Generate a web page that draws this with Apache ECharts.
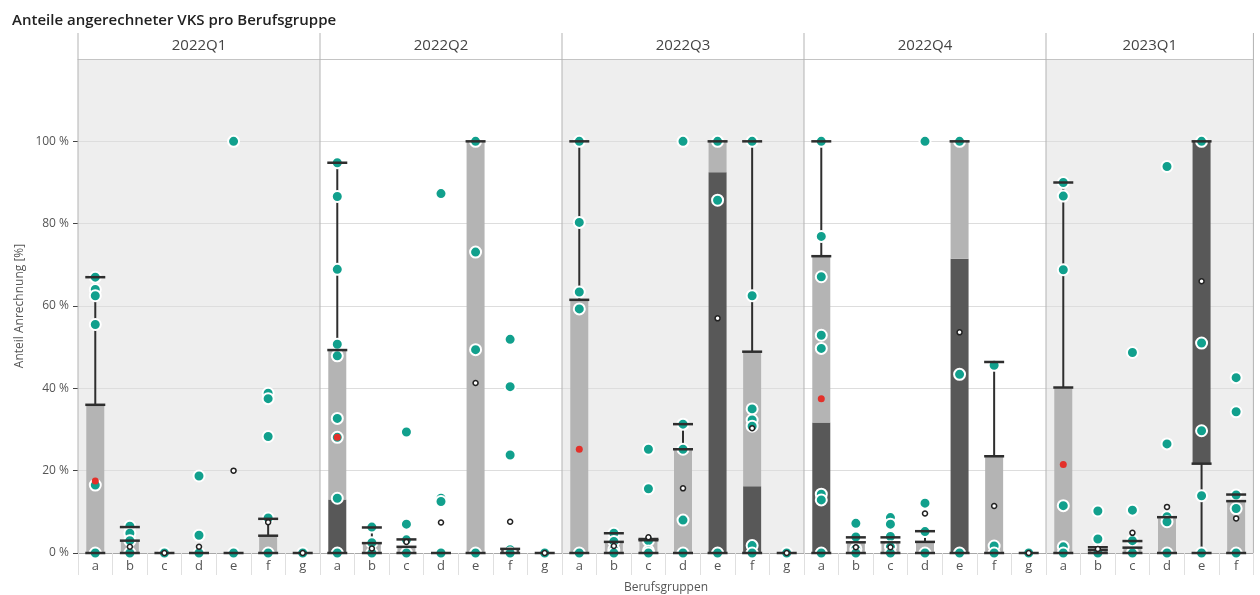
<!DOCTYPE html>
<html><head><meta charset="utf-8">
<script src="https://cdn.jsdelivr.net/npm/echarts@6/dist/echarts.min.js"></script>
<style>html,body{margin:0;padding:0;background:#fff}#c{width:1260px;height:595px}</style>
</head><body><div id="c"></div>
<script>
// ---- data ----
const quarters = ['2022Q1', '2022Q2', '2022Q3', '2022Q4', '2023Q1'];
const groups7 = ['a', 'b', 'c', 'd', 'e', 'f', 'g'];
const groups6 = ['a', 'b', 'c', 'd', 'e', 'f'];
const yTicks = [0, 20, 40, 60, 80, 100];

// box statistics per category: [whisker low, Q1, median, Q3, whisker high] in %
const box2022Q1 = [[0,0,0,36,67],[0,0,0,3,6.3],[0,0,0,0,0],[0,0,0,0,0],[0,0,0,0,0],[0,0,0,4.2,8.3],[0,0,0,0,0]];
const box2022Q2 = [[0,0,13,49.3,94.8],[0,0,0,2.4,6.2],[0,0,0,1.5,3.3],[0,0,0,0,0],[0,0,0,100,100],[0,0,1,1,1],[0,0,0,0,0]];
const box2022Q3 = [[0,0,0,61.5,100],[0,0,0,2.7,4.8],[0,0,0,3.1,3.4],[0,0,0,25.2,31.3],[0,0,92.5,100,100],[0,0,16.2,48.9,100],[0,0,0,0,0]];
const box2022Q4 = [[0,0,31.7,72.1,100],[0,0,0,2.6,3.8],[0,0,0,2.6,3.8],[0,0,0,2.7,5.3],[0,0,71.5,100,100],[0,0,0,23.5,46.4],[0,0,0,0,0]];
const box2023Q1 = [[0,0,0,40.2,90],[0,0,0,0.7,1.4],[0,0,0,1.3,2.9],[0,0,0,8.7,8.7],[0,21.7,100,100,100],[0,0,0,12.6,14.2]];

// individual values per category (%)
const pts2022Q1 = [[67,64,62.5,55.5,16.5,0],[6.5,4.8,3,0],[0],[18.7,4.3,0],[100,0],[38.8,37.5,28.3,8.5,0],[0]];
const pts2022Q2 = [[94.8,86.6,68.9,50.7,47.9,32.7,28.1,13.3,0],[6.3,2.5,0],[29.4,7.0,3.2,0],[87.3,13.3,12.5,0],[100,73.1,49.4,0],[51.9,40.4,23.8,0.8,0],[0]];
const pts2022Q3 = [[100,80.3,63.4,59.3,0],[4.8,2.8,0.8,0],[25.2,15.6,3.0,0.5,0],[100,31.3,25.2,8.0,0],[100,85.7,0],[100,62.5,35.0,32.3,30.8,1.8,0],[0]];
const pts2022Q4 = [[100,76.9,67.1,52.9,49.7,14.3,12.9,0],[7.2,3.9,1.0,0],[8.6,7.0,4.0,1.5,0],[100,12.1,5.2,0],[100,43.4,0],[45.6,1.7,0],[0]];
const pts2023Q1 = [[90,86.7,68.8,11.5,1.5,0],[10.2,3.4,0.5,0],[48.7,10.4,3.0,0],[93.9,26.5,8.8,7.6,0],[100,51.0,29.7,13.9,0],[42.6,34.3,14.1,10.8,0]];

// mean per category (%)
const mean2022Q1 = [17.5, 1.5, 0, 1.5, 20, 7.5, 0];
const mean2022Q2 = [28.1, 1.1, 2.7, 7.4, 41.3, 7.6, 0];
const mean2022Q3 = [25.2, 1.7, 3.8, 15.7, 57.0, 30.3, 0];
const mean2022Q4 = [37.5, 1.4, 1.4, 9.6, 53.6, 11.4, 0];
const mean2023Q1 = [21.5, 1.0, 4.9, 11.2, 66.0, 8.4];

const panels = [
  { name: quarters[0], cats: groups7, box: box2022Q1, pts: pts2022Q1, mean: mean2022Q1 },
  { name: quarters[1], cats: groups7, box: box2022Q2, pts: pts2022Q2, mean: mean2022Q2 },
  { name: quarters[2], cats: groups7, box: box2022Q3, pts: pts2022Q3, mean: mean2022Q3 },
  { name: quarters[3], cats: groups7, box: box2022Q4, pts: pts2022Q4, mean: mean2022Q4 },
  { name: quarters[4], cats: groups6, box: box2023Q1, pts: pts2023Q1, mean: mean2023Q1 }
];

// ---- layout / style ----
const FONT = 'Open Sans';
const LEFT0 = 78, CAT_W = 242 / 7, TOP = 59, HEIGHT = 494, HEAD_TOP = 33, BAND_BOTTOM = 575;
const TEAL = '#11a08d', RED = '#e3302a', DARK = '#585858', LIGHT = '#b4b4b4', WHISK = '#2e2e2e';
const BOX_W = 18;

function renderBox(params, api) {
  const i = api.value(0);
  const lo = api.value(1), q1 = api.value(2), md = api.value(3), q3 = api.value(4), hi = api.value(5);
  const cx = api.coord([i, 0])[0];
  const Y = v => api.coord([i, v])[1];
  const hw = BOX_W / 2;
  const ch = [];
  if (md > q1) ch.push({ type: 'rect', shape: { x: cx - hw, y: Y(md), width: BOX_W, height: Y(q1) - Y(md) }, style: { fill: DARK } });
  if (q3 > md) ch.push({ type: 'rect', shape: { x: cx - hw, y: Y(q3), width: BOX_W, height: Y(md) - Y(q3) }, style: { fill: LIGHT } });
  if (hi > q3) ch.push({ type: 'line', shape: { x1: cx, y1: Y(q3), x2: cx, y2: Y(hi) }, style: { stroke: WHISK, lineWidth: 2 } });
  if (q1 > lo) ch.push({ type: 'line', shape: { x1: cx, y1: Y(lo), x2: cx, y2: Y(q1) }, style: { stroke: WHISK, lineWidth: 2 } });
  return { type: 'group', children: ch };
}

function renderCaps(params, api) {
  const i = api.value(0);
  const vals = [api.value(5), api.value(4), api.value(2), api.value(1)];
  const cx = api.coord([i, 0])[0];
  const hw = BOX_W / 2 + 1;
  const caps = [];
  vals.forEach(v => { if (caps.indexOf(v) < 0) caps.push(v); });
  return { type: 'group', children: caps.map(v => {
    const y = api.coord([i, v])[1];
    return { type: 'line', shape: { x1: cx - hw, y1: y, x2: cx + hw, y2: y }, style: { stroke: WHISK, lineWidth: 2.5 } };
  }) };
}

const grid = [], xAxis = [], yAxis = [], series = [], graphic = [];
let left = LEFT0;
panels.forEach((p, k) => {
  const width = CAT_W * p.cats.length;
  grid.push({ left: left, top: TOP, width: width, height: HEIGHT, show: true,
    backgroundColor: (k % 2 === 0) ? '#eeeeee' : '#ffffff', borderWidth: 0 });
  graphic.push({ type: 'line', shape: { x1: left, y1: HEAD_TOP, x2: left, y2: TOP + HEIGHT }, style: { stroke: '#b3b3b3', lineWidth: 1 }, z: 5 });
  if (k === panels.length - 1) {
    graphic.push({ type: 'line', shape: { x1: left + width, y1: HEAD_TOP, x2: left + width, y2: TOP + HEIGHT }, style: { stroke: '#b3b3b3', lineWidth: 1 }, z: 5 });
  }
  left += width;
  const base = xAxis.length;
  xAxis.push({ gridIndex: k, type: 'category', data: p.cats, position: 'bottom',
    axisLine: { show: true, lineStyle: { color: '#a8a8a8', width: 1 } },
    axisTick: { show: true, alignWithLabel: true, length: 5, lineStyle: { color: '#666' } },
    axisLabel: { margin: 7, fontSize: 13, color: '#555', fontFamily: FONT },
    splitLine: { show: false } });
  xAxis.push({ gridIndex: k, type: 'category', data: p.cats, position: 'bottom',
    axisLine: { show: false }, axisLabel: { show: false },
    axisTick: { show: true, alignWithLabel: false, length: BAND_BOTTOM - TOP - HEIGHT, lineStyle: { color: '#e0e0e0' } },
    splitLine: { show: false } });
  xAxis.push({ gridIndex: k, type: 'category', data: [p.name], position: 'top',
    axisLine: { show: true, lineStyle: { color: '#c4c4c4' } }, axisTick: { show: false },
    axisLabel: { margin: 6, fontSize: 15, color: '#444', fontFamily: FONT }, splitLine: { show: false } });
  yAxis.push({ gridIndex: k, type: 'value', min: 0, max: 120, interval: 20,
    name: k === 0 ? 'Anteil Anrechnung [%]' : '', nameLocation: 'middle', nameGap: 52,
    nameTextStyle: { fontSize: 12, color: '#555', fontFamily: FONT },
    axisLine: { show: false },
    axisTick: { show: k === 0, length: 5, lineStyle: { color: '#444' }, customValues: yTicks },
    axisLabel: { show: k === 0, margin: 9, fontSize: 12, color: '#555', fontFamily: FONT, customValues: yTicks,
      formatter: v => (v > 100 ? '' : v + ' %') },
    splitLine: { show: true, lineStyle: { color: '#dddddd', width: 1 } } });

  const boxData = p.box.map((b, i) => [i].concat(b));
  series.push({ type: 'custom', xAxisIndex: base, yAxisIndex: k, z: 2, renderItem: renderBox,
    encode: { x: 0, y: [1, 2, 3, 4, 5] }, data: boxData });
  const sc = [];
  p.pts.forEach((arr, i) => arr.forEach(v => sc.push([i, v])));
  series.push({ type: 'scatter', xAxisIndex: base, yAxisIndex: k, z: 3, symbolSize: 11,
    itemStyle: { color: TEAL, borderColor: '#ffffff', borderWidth: 2, opacity: 1 }, data: sc });
  series.push({ type: 'custom', xAxisIndex: base, yAxisIndex: k, z: 4, renderItem: renderCaps,
    encode: { x: 0, y: [1, 2, 3, 4, 5] }, data: boxData });
  series.push({ type: 'scatter', xAxisIndex: base, yAxisIndex: k, z: 5,
    data: p.mean.map((v, i) => (i === 0
      ? { value: [i, v], symbolSize: 7, itemStyle: { color: RED, borderColor: RED, borderWidth: 0, opacity: 1 } }
      : { value: [i, v], symbolSize: 5, itemStyle: { color: '#ffffff', borderColor: '#222222', borderWidth: 1.5, opacity: 1 } })) });
});

graphic.push({ type: 'text', x: 666, y: 588, z: 5,
  style: { text: 'Berufsgruppen', fill: '#555', font: '12px "Open Sans"', align: 'center', verticalAlign: 'middle',
    textAlign: 'center', textVerticalAlign: 'middle' } });

const chart = echarts.init(document.getElementById('c'), null, { renderer: 'canvas' });
chart.setOption({
  animation: false,
  backgroundColor: '#ffffff',
  title: [{ text: 'Anteile angerechneter VKS pro Berufsgruppe', left: 7, top: 8,
    textStyle: { fontSize: 15, fontWeight: 600, color: '#222', fontFamily: FONT } }],
  grid: grid, xAxis: xAxis, yAxis: yAxis, series: series, graphic: graphic
});
</script></body></html>
